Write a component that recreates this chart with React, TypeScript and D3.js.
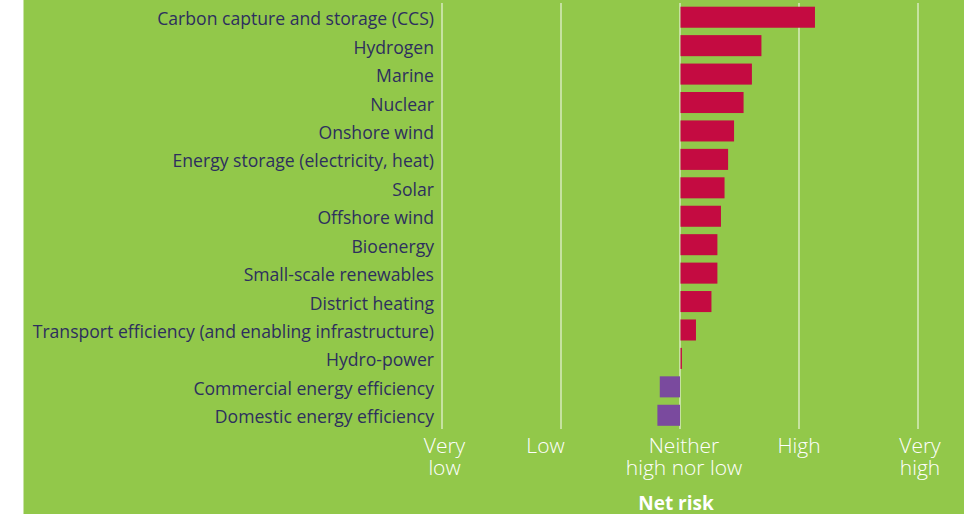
import React from "react";
import * as d3 from "d3";

const categories = [
  "Carbon capture and storage (CCS)",
  "Hydrogen",
  "Marine",
  "Nuclear",
  "Onshore wind",
  "Energy storage (electricity, heat)",
  "Solar",
  "Offshore wind",
  "Bioenergy",
  "Small-scale renewables",
  "District heating",
  "Transport efficiency (and enabling infrastructure)",
  "Hydro-power",
  "Commercial energy efficiency",
  "Domestic energy efficiency",
];

// Net risk on a 1 (very low) .. 5 (very high) scale; 3 = neither high nor low
const netRisk = [4.13, 3.68, 3.6, 3.53, 3.45, 3.4, 3.37, 3.34, 3.31, 3.31, 3.26, 3.13, 3.012, 2.83, 2.81];

const tickValues = [1, 2, 3, 4, 5];
const tickLabels = [["Very", "low"], ["Low"], ["Neither", "high nor low"], ["High"], ["Very", "high"]];
const tickLabelShift = [2.5, -15.5, 4, 0, 2];

const axisTitle = "Net risk";

const W = 974;
const H = 514;

export default function App() {
  const x = d3.scaleLinear().domain([1, 5]).range([442, 918]);
  const y = d3
    .scaleBand<string>()
    .domain(categories)
    .range([3, 429.5])
    .paddingInner(0.26)
    .paddingOuter(0.13);
  const bw = y.bandwidth();
  const x0 = x(3);

  return (
    <svg
      width={W}
      height={H}
      style={{ position: "absolute", left: 0, top: 0, display: "block" }}
    >
      <rect x={23.5} y={0} width={940.5} height={H} fill="#92c84a" />
      {tickValues.map((t) => (
        <line
          key={"g" + t}
          x1={x(t)}
          x2={x(t)}
          y1={3}
          y2={429}
          stroke="#ffffff"
          strokeOpacity={0.6}
          strokeWidth={1.6}
        />
      ))}
      {categories.map((c, i) => {
        const v = netRisk[i];
        const xa = Math.min(x0, x(v));
        const w = Math.abs(x(v) - x0);
        return (
          <rect
            key={"b" + c}
            x={v >= 3 ? x0 + 0.5 : xa}
            y={y(c)}
            width={Math.max(w, 1)}
            height={bw}
            fill={v >= 3 ? "#c40b41" : "#7a4a9e"}
          />
        );
      })}
      {categories.map((c) => (
        <text
          key={"l" + c}
          x={434}
          y={(y(c) as number) + bw / 2 + 1}
          textAnchor="end"
          dominantBaseline="central"
          fontFamily="'Open Sans', 'Noto Sans', sans-serif"
          fontSize={17.6}
          fill="#2d2f5e"
        >
          {c}
        </text>
      ))}
      {tickValues.map((t, i) => (
        <text
          key={"t" + t}
          x={x(t) + tickLabelShift[i]}
          y={452.5}
          textAnchor="middle"
          fontFamily="'Open Sans', 'Noto Sans', sans-serif"
          fontWeight={300}
          fontSize={21}
          fill="#ffffff"
        >
          {tickLabels[i].map((s, k) => (
            <tspan key={k} x={x(t) + tickLabelShift[i]} dy={k === 0 ? 0 : 22}>
              {s}
            </tspan>
          ))}
        </text>
      ))}
      <text
        x={676}
        y={509.5}
        textAnchor="middle"
        fontFamily="'Open Sans', 'Noto Sans', sans-serif"
        fontWeight={700}
        fontSize={19}
        fill="#ffffff"
      >
        {axisTitle}
      </text>
    </svg>
  );
}
